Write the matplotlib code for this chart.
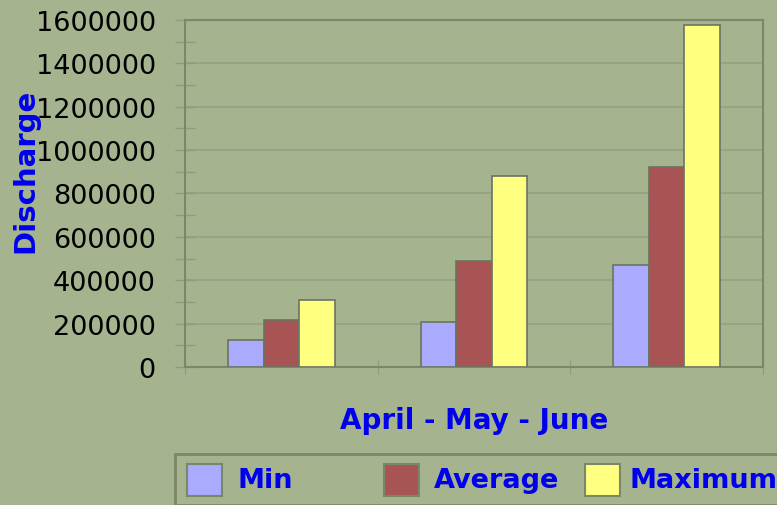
import matplotlib.pyplot as plt
import numpy as np
from matplotlib.patches import Rectangle
from matplotlib.ticker import FuncFormatter

series = ["Min", "Average", "Maximum"]
groups = ["April", "May", "June"]
min_vals = [126000, 206000, 472000]
avg_vals = [215000, 490000, 920000]
max_vals = [310000, 879000, 1578000]
colors = ["#AAAAFF", "#A85454", "#FFFF80"]

bg = "#A5B38F"
W, H = 777, 506

fig = plt.figure(figsize=(W / 100, H / 100), dpi=100, facecolor=bg)
ax = fig.add_axes([185 / W, (H - 368) / H, 578 / W, 347 / H])
ax.set_facecolor(bg)

x = np.arange(len(groups))
w = 0.184
for i, vals in enumerate([min_vals, avg_vals, max_vals]):
    ax.bar(x + (i - 1) * w, vals, w, color=colors[i], edgecolor="#6A7460",
           linewidth=1.2, zorder=3, label=series[i])

ax.set_xlim(-0.5, 2.5)
ax.set_ylim(0, 1600000)
ax.set_yticks(np.arange(0, 1600001, 200000))
ax.set_yticks(np.arange(100000, 1600000, 200000), minor=True)
ax.yaxis.set_major_formatter(FuncFormatter(lambda v, p: "%d" % v))
ax.set_xticks([-0.5, 0.5, 1.5, 2.5])
ax.set_xticklabels([])
ax.grid(axis="y", color="#94A282", linewidth=1.2, zorder=0)

for s in ax.spines.values():
    s.set_color("#7A8769")
    s.set_linewidth(1.5)

ax.tick_params(axis="y", which="both", direction="inout", length=14,
               color="#8E9C7D", width=1, pad=14, labelsize=19.5,
               labelcolor="black")
ax.tick_params(axis="x", direction="inout", length=10, color="#8E9C7D")
for lab in ax.get_yticklabels():
    lab.set_fontfamily("DejaVu Sans")

fig.text(474 / W, 1 - 421 / H, "April - May - June", color="#0000EE",
         fontsize=20, fontweight="bold", ha="center", va="center")
fig.text(25 / W, 1 - 171 / H, "Discharge", color="#0000EE",
         fontsize=21, fontweight="bold", ha="center", va="center",
         rotation=90)

# legend box drawn by hand
fig.patches.append(Rectangle((175 / W, 0), 620 / W, (H - 455) / H,
                             transform=fig.transFigure, facecolor=bg,
                             edgecolor="#7A8769", linewidth=2))
patch_x = [187, 384, 585]
text_x = [237, 434, 630]
for i in range(3):
    fig.patches.append(Rectangle((patch_x[i] / W, 1 - 497 / H), 35 / W, 32 / H,
                                 transform=fig.transFigure, facecolor=colors[i],
                                 edgecolor="#7A8769", linewidth=1.5))
    fig.text(text_x[i] / W, 1 - 481 / H, series[i], color="#0000EE",
             fontsize=19.5, fontweight="bold", ha="left", va="center")

fig.savefig("out.png", dpi=100, facecolor=bg)
